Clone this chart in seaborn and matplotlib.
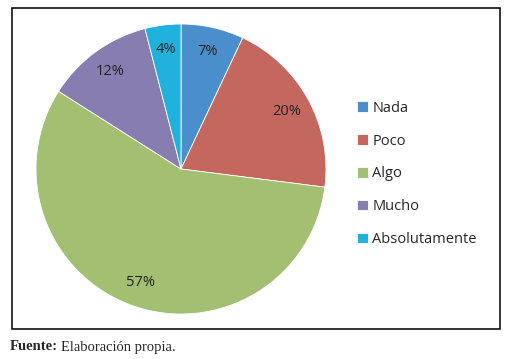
import matplotlib
matplotlib.use("Agg")
import matplotlib.pyplot as plt
import seaborn as sns
from matplotlib.patches import Rectangle

categories = ["Nada", "Poco", "Algo", "Mucho", "Absolutamente"]
values = [7, 20, 57, 12, 4]
colors = ["#4A8FCB", "#C4675F", "#A2BF72", "#887DB0", "#20B2DC"]

sns.set_style("white")
plt.rcParams["font.family"] = ["Open Sans", "DejaVu Sans"]

W, H = 505, 359
fig = plt.figure(figsize=(W / 100, H / 100), dpi=100)

# frame around the chart
fig.patches.append(Rectangle((12 / W, 1 - 329 / H), 488 / W, 321 / H,
                             transform=fig.transFigure, fill=False,
                             edgecolor="#111111", linewidth=1.2))

ax = fig.add_axes([36 / W, 1 - 314 / H, 290 / W, 290 / H])
wedges, texts, autotexts = ax.pie(
    values, colors=sns.color_palette(colors), startangle=90, counterclock=False,
    autopct=lambda p: f"{p:.0f}%", pctdistance=0.83, radius=1.0,
    wedgeprops={"edgecolor": "white", "linewidth": 0.6},
    textprops={"fontsize": 10.5, "color": "#222222"},
)
ax.set_xlim(-1, 1)
ax.set_ylim(-1, 1)
ax.set_aspect("equal")
ax.axis("off")

fig.legend(wedges, categories, loc="upper left",
           bbox_to_anchor=(351 / W, 1 - 95 / H), frameon=False,
           fontsize=10.5, handlelength=0.75, handleheight=0.75,
           handletextpad=0.3, labelspacing=1.22, borderaxespad=0)

fig.text(10 / W, 1 - 347 / H, "Fuente:", family="Liberation Serif",
         fontweight="bold", fontsize=10.5, va="center", ha="left")
fig.text(61 / W, 1 - 347 / H, "Elaboración propia.", family="Liberation Serif",
         fontsize=10.5, va="center", ha="left")

fig.savefig("out.png", dpi=100)
